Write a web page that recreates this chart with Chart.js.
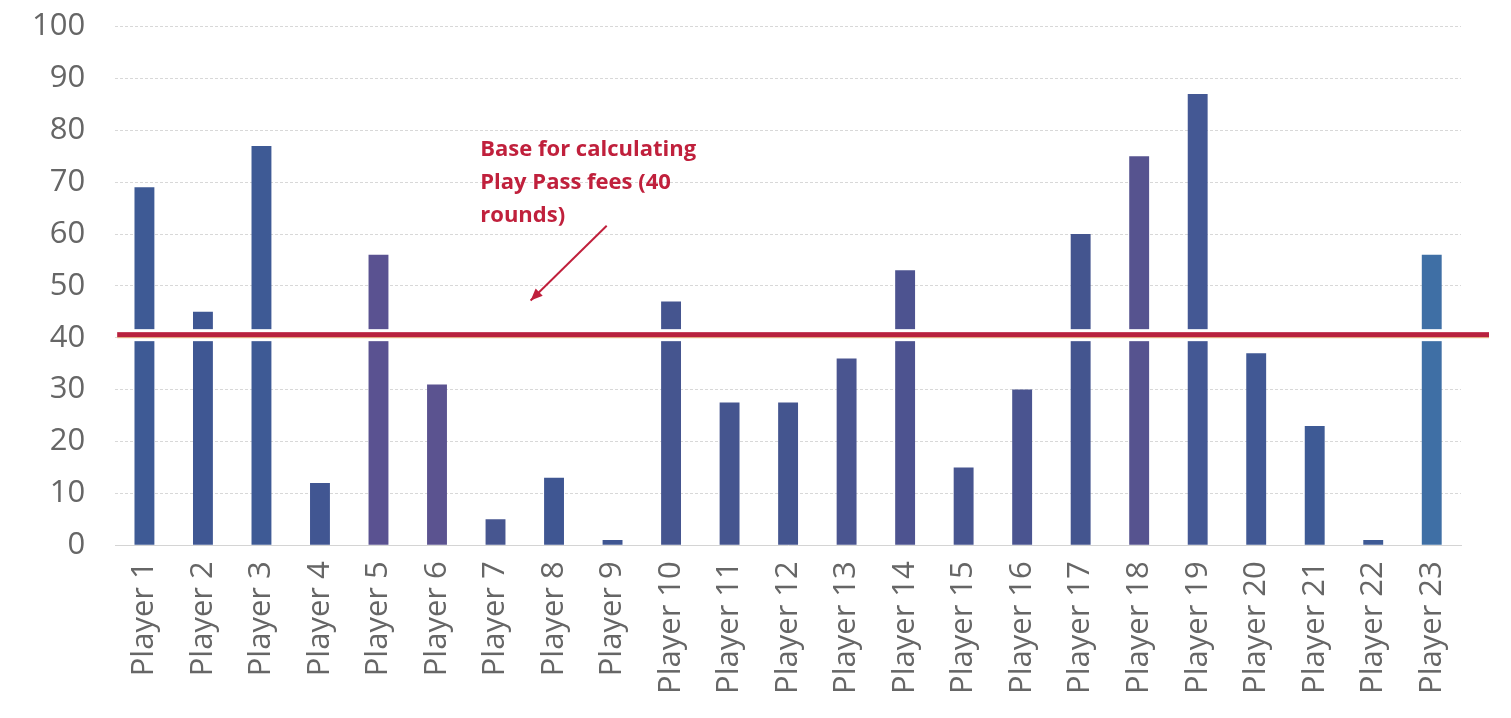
<!DOCTYPE html>
<html>
<head>
<meta charset="utf-8">
<script src="https://cdn.jsdelivr.net/npm/chart.js@4"></script>
<style>
  html, body { margin: 0; padding: 0; background: #fff; overflow: hidden; }
  #frame { width: 1511px; height: 718px; position: relative; overflow: hidden; }
  #wrap { width: 1511px; height: 754px; position: absolute; left: 0; top: -22px; }
</style>
</head>
<body>
<div id="frame"><div id="wrap"><canvas id="roundsChart"></canvas></div></div>
<script>
const players = ["Player 1", "Player 2", "Player 3", "Player 4", "Player 5", "Player 6",
  "Player 7", "Player 8", "Player 9", "Player 10", "Player 11", "Player 12", "Player 13",
  "Player 14", "Player 15", "Player 16", "Player 17", "Player 18", "Player 19", "Player 20",
  "Player 21", "Player 22", "Player 23"];
const rounds = [69, 45, 77, 12, 56, 31, 5, 13, 1, 47, 27.5, 27.5, 36, 53, 15, 30, 60, 75, 87, 37, 23, 1, 56];
const baseRounds = 40.5;
const noteLines = ["Base for calculating", "Play Pass fees (40", "rounds)"];

// scanned print: bars drift a little between blue and purple
const barColors = ["#3e5a95", "#3f5793", "#3e5a95", "#415692", "#5a5291", "#5b5390",
  "#475690", "#3f5692", "#3f5692", "#45558f", "#45558f", "#44558f", "#4a5590",
  "#4d5390", "#475590", "#4a5490", "#44558f", "#56538f", "#445894", "#415894",
  "#3e5a95", "#3e5a95", "#3f6fa5"];

const baseLine = {
  id: "baseLine",
  afterDatasetsDraw(chart) {
    const { ctx, chartArea, scales } = chart;
    const y = scales.y.getPixelForValue(baseRounds);
    const x0 = chartArea.left + 2;
    const x1 = chartArea.right + 28;
    ctx.save();
    ctx.fillStyle = "#ffffff";
    ctx.fillRect(x0, y - 6, x1 - x0, 12);
    ctx.fillStyle = "#b8213e";
    ctx.fillRect(x0, y - 3, x1 - x0, 5);
    ctx.fillStyle = "#e0a070";
    ctx.fillRect(x0, y + 2, x1 - x0, 1);

    // note + arrow
    const tx = scales.x.getPixelForValue(5.74);
    const ty = scales.y.getPixelForValue(76.2);
    ctx.fillStyle = "#c0203c";
    ctx.font = "bold 22px 'Open Sans', 'Liberation Sans', sans-serif";
    ctx.textBaseline = "middle";
    noteLines.forEach((t, i) => ctx.fillText(t, tx, ty + i * 33));

    const ax = scales.x.getPixelForValue(7.9);
    const ay = scales.y.getPixelForValue(61.6);
    const bx = scales.x.getPixelForValue(6.6);
    const by = scales.y.getPixelForValue(47.2);
    ctx.strokeStyle = "#c0203c";
    ctx.lineWidth = 2;
    ctx.beginPath();
    ctx.moveTo(ax, ay);
    ctx.lineTo(bx, by);
    ctx.stroke();
    const ang = Math.atan2(by - ay, bx - ax);
    ctx.beginPath();
    ctx.moveTo(bx, by);
    ctx.lineTo(bx - 13 * Math.cos(ang - 0.4), by - 13 * Math.sin(ang - 0.4));
    ctx.lineTo(bx - 13 * Math.cos(ang + 0.4), by - 13 * Math.sin(ang + 0.4));
    ctx.closePath();
    ctx.fill();
    ctx.restore();
  },
};

new Chart(document.getElementById("roundsChart"), {
  type: "bar",
  data: {
    labels: players,
    datasets: [
      {
        label: "Rounds",
        data: rounds,
        backgroundColor: barColors,
        barPercentage: 0.34,
        categoryPercentage: 1,
      },
    ],
  },
  options: {
    responsive: true,
    maintainAspectRatio: false,
    animation: false,
    layout: {
      padding: { top: -6, right: 50, bottom: 22, left: 2 },
    },
    plugins: {
      legend: { display: false },
      tooltip: { enabled: false },
    },
    scales: {
      x: {
        grid: { display: false, drawTicks: false },
        border: { color: "#d4d4d4" },
        ticks: {
          minRotation: 90,
          maxRotation: 90,
          autoSkip: false,
          padding: 16,
          color: "#666",
          font: { family: "'Open Sans', sans-serif", size: 31 },
        },
      },
      y: {
        min: 0,
        max: 100,
        grid: { color: "#d8d8d8", drawTicks: false },
        border: { display: false, dash: [3, 2] },
        ticks: {
          stepSize: 10,
          padding: 30,
          color: "#666",
          font: { family: "'Open Sans', sans-serif", size: 31 },
        },
      },
    },
  },
  plugins: [baseLine],
});
</script>
</body>
</html>
